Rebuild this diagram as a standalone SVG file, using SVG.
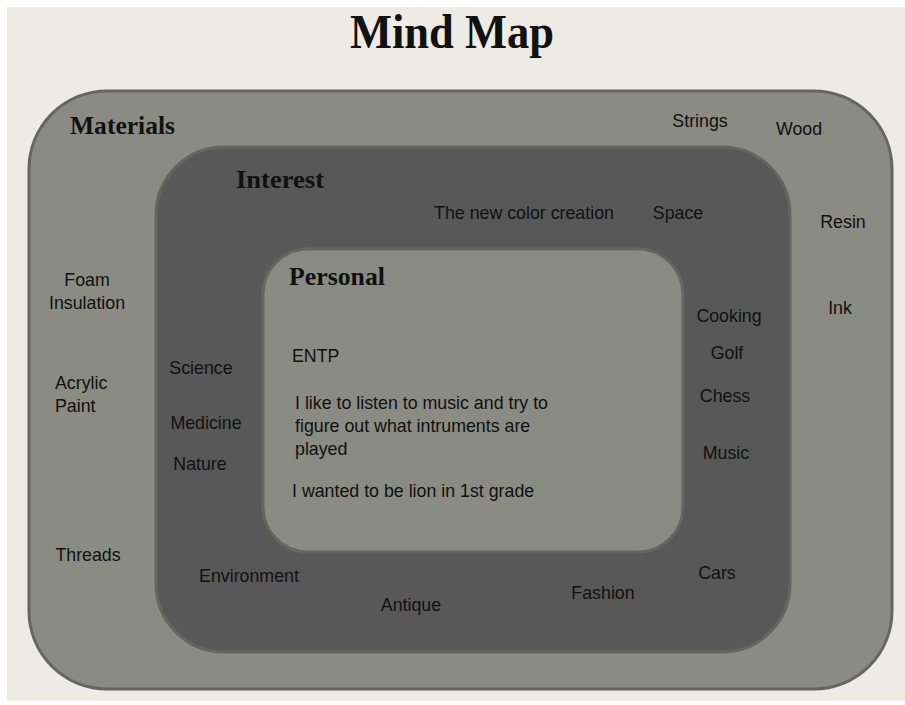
<svg xmlns="http://www.w3.org/2000/svg" width="905" height="705" viewBox="0 0 905 705">
<style>
.ring{stroke:#65665f;stroke-width:3}
.h{font-family:"Liberation Serif","DejaVu Serif",serif;font-weight:bold;fill:#111;font-size:26px}
.t{font-family:"Liberation Sans","DejaVu Sans",sans-serif;font-size:17.8px;fill:#111}
.c{text-anchor:middle}
</style>
<rect x="0" y="0" width="905" height="705" fill="#ffffff"/>
<rect x="7" y="7" width="898" height="694" fill="#edebe3"/>
<text class="h c" x="452" y="48" style="font-size:48px" textLength="204" lengthAdjust="spacingAndGlyphs">Mind Map</text>
<g id="materials">
<rect class="ring" x="29" y="91" width="863" height="598" rx="78" ry="78" fill="#8a8b82"/>
<text class="h" x="70" y="134" textLength="105" lengthAdjust="spacingAndGlyphs">Materials</text>
<text class="t c" x="700" y="127">Strings</text>
<text class="t c" x="799" y="135">Wood</text>
<text class="t c" x="843" y="228">Resin</text>
<text class="t c" x="840" y="314">Ink</text>
<text class="t c" x="87" y="286">Foam</text>
<text class="t c" x="87" y="309">Insulation</text>
<text class="t" x="55" y="389">Acrylic</text>
<text class="t" x="55" y="412">Paint</text>
<text class="t c" x="88" y="561">Threads</text>
</g>
<g id="interest">
<rect class="ring" x="156" y="147" width="634" height="505" rx="68" ry="68" fill="#585858"/>
<text class="h" x="236" y="188" textLength="88" lengthAdjust="spacingAndGlyphs">Interest</text>
<text class="t c" x="524" y="219">The new color creation</text>
<text class="t c" x="678" y="219">Space</text>
<text class="t c" x="729" y="322">Cooking</text>
<text class="t c" x="727" y="359">Golf</text>
<text class="t c" x="725" y="402">Chess</text>
<text class="t c" x="726" y="459">Music</text>
<text class="t c" x="201" y="374">Science</text>
<text class="t c" x="206" y="429">Medicine</text>
<text class="t c" x="200" y="470">Nature</text>
<text class="t c" x="249" y="582">Environment</text>
<text class="t c" x="411" y="611">Antique</text>
<text class="t c" x="603" y="599">Fashion</text>
<text class="t c" x="717" y="579">Cars</text>
</g>
<g id="personal">
<rect class="ring" x="263" y="249" width="420" height="303" rx="45" ry="45" fill="#8a8b82"/>
<text class="h" x="289" y="285" textLength="96" lengthAdjust="spacingAndGlyphs">Personal</text>
<text class="t" x="292" y="362">ENTP</text>
<text class="t" x="295" y="409">I like to listen to music and try to</text>
<text class="t" x="295" y="432">figure out what intruments are</text>
<text class="t" x="295" y="455">played</text>
<text class="t" x="292" y="497">I wanted to be lion in 1st grade</text>
</g>
<g id="connectors"></g>
</svg>
